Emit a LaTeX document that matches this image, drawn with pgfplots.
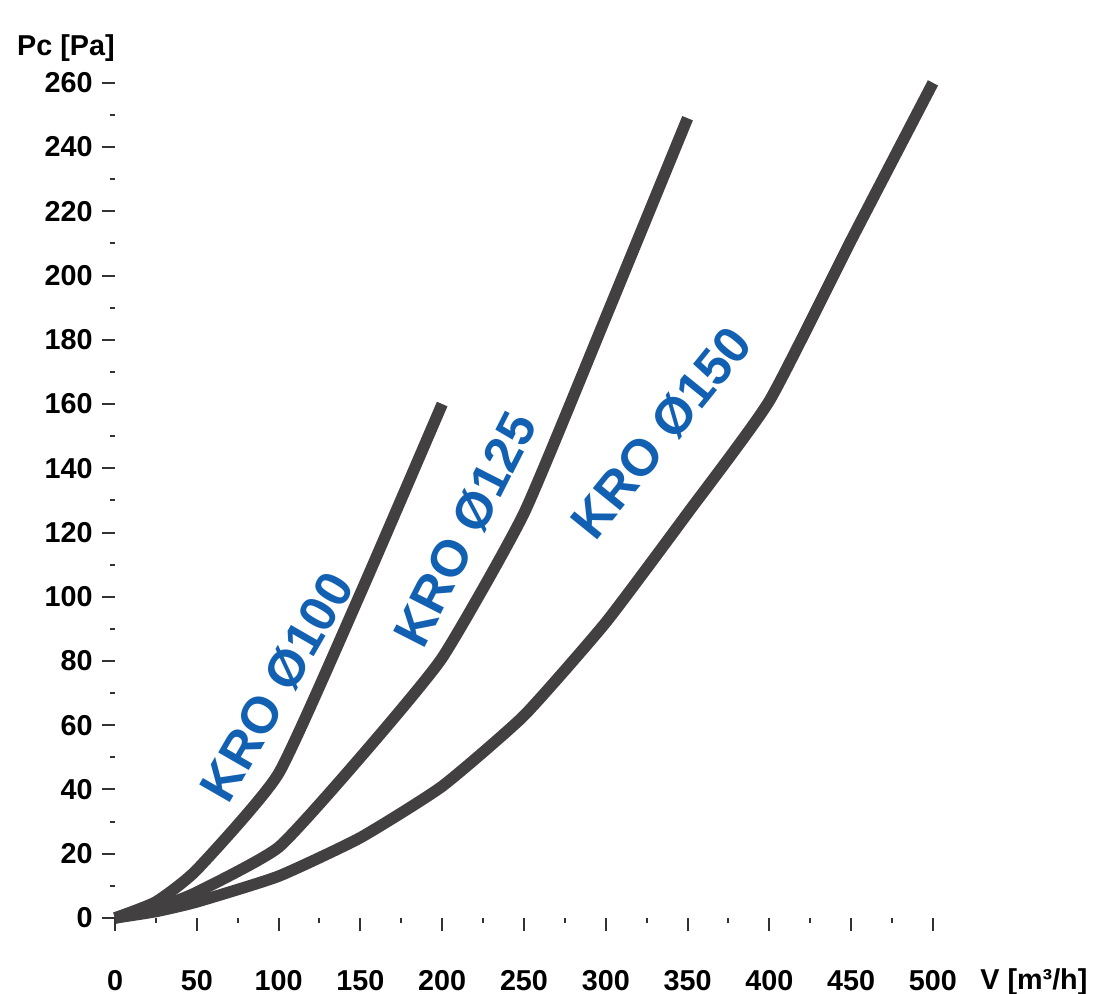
\documentclass[border=0pt]{standalone}
\usepackage{pgfplots}
\pgfplotsset{compat=1.18}
\usepackage{fontspec}
\setmainfont{Liberation Sans}
\definecolor{curve}{RGB}{66,64,64}
\definecolor{lblue}{RGB}{18,96,178}
\definecolor{tickc}{RGB}{50,50,50}
\begin{document}
\begin{tikzpicture}
\begin{axis}[
  x=0.6544pt, y=1.2848pt,
  xmin=0, xmax=500, ymin=0, ymax=260,
  clip=false,
  axis x line=bottom, axis y line=left,
  axis line style={draw=none},
  xtick={0,50,...,500}, ytick={0,20,...,260},
  minor x tick num=1, minor y tick num=1,
  tick align=outside,
  major tick length=5.4pt, minor tick length=2.2pt,
  tick style={tickc, line width=0.8pt},
  /pgf/number format/assume math mode=true,
  ticklabel style={font=\bfseries\fontsize{11.5}{13}\selectfont, text=black},
  xticklabel style={yshift=-12pt},
]
\addplot[curve, line width=4.6pt, smooth, tension=0.3, line join=round] coordinates {
  (0,0) (25,5) (50,15) (100,45) (150,101) (200,160)};
\addplot[curve, line width=4.6pt, smooth, tension=0.3, line join=round] coordinates {
  (0,0) (25,3) (50,8) (100,22) (150,50) (200,81) (250,126) (300,187) (350,249)};
\addplot[curve, line width=4.6pt, smooth, tension=0.3, line join=round] coordinates {
  (0,0) (25,2) (50,5) (100,13) (150,25) (200,41) (250,63) (300,92) (350,126) (400,161) (450,211) (500,260)};

\node[lblue, rotate=60, inner sep=0pt, font=\bfseries\fontsize{20.5}{22}\selectfont] at (axis cs:99,72) {KRO Ø100};
\node[lblue, rotate=63, inner sep=0pt, font=\bfseries\fontsize{20.5}{22}\selectfont] at (axis cs:214,121) {KRO Ø125};
\node[lblue, rotate=51, inner sep=0pt, font=\bfseries\fontsize{20.5}{22}\selectfont] at (axis cs:334,151) {KRO Ø150};

\node[font=\bfseries\fontsize{11.5}{13}\selectfont] at (axis cs:-30,270.9) {Pc [Pa]};
\node[font=\bfseries\fontsize{11.5}{13}\selectfont] at (axis cs:561.7,-19.9) {V [m³/h]};

\coordinate (ll) at (axis cs:-70.3,-23.66);
\coordinate (ur) at (axis cs:602.1,285.8);
\end{axis}
\pgfresetboundingbox
\path[use as bounding box] (ll) rectangle (ur);
\end{tikzpicture}
\end{document}
